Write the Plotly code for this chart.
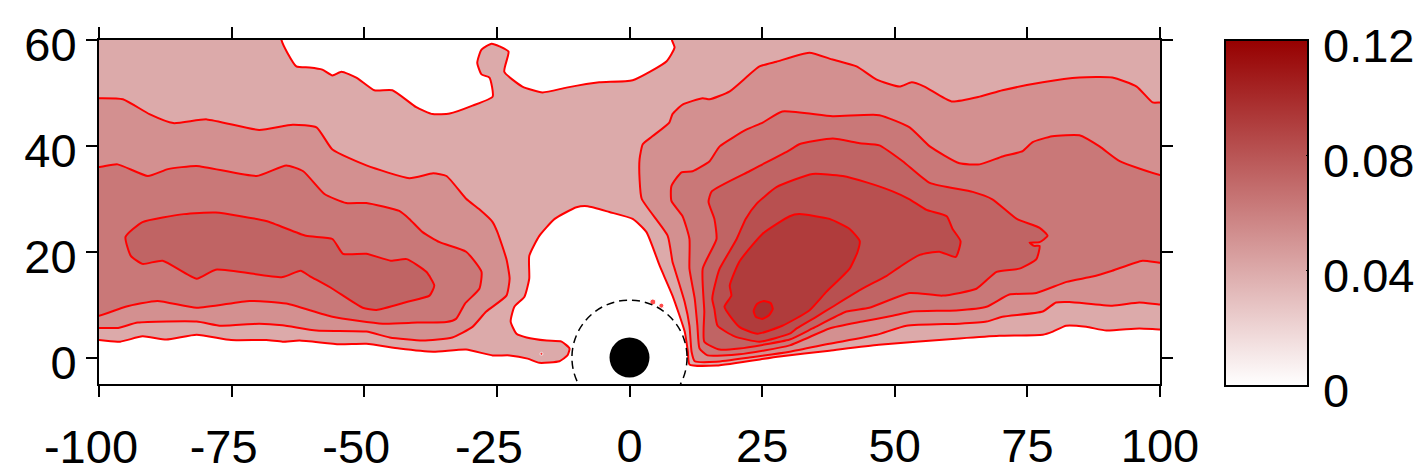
import plotly.graph_objects as go

selected_font = 'Liberation Sans'
line_color = 'red'

# colours of the filled bands, lowest level first
band_colors = ['#dcaaaa', '#d39090', '#c97878', '#c06464', '#b85050', '#b03c3c', '#a83030']

neg_x_ticks = [-100, -75, -50, -25]
neg_x_labels = ['-100', '-75', '-50', '-25']
x_ticks = [-100, -75, -50, -25, 0, 25, 50, 75, 100]
x_labels = ['', '', '', '', '0', '25', '50', '75', '100']
y_ticks = [0, 20, 40, 60]
y_labels = ['0', '20', '40', '60']
bar_ticks = [0, 0.04, 0.08, 0.12]
bar_labels = ['0', '0.04', '0.08', '0.12']

disc_radius = 3.77
dashed_radius = 10.85

# contours, in axis units
# where a band runs off the frame the outline goes just past it, so the frame clips the red line
level1_x = [-103, -100, -96, -91.8, -87.3, -81.6, -75.1, -68.5, -65.4, -62.2, -54.7, -49.6, -43.4, -37, -30.8, -25.8, -22.6,
            -19.2, -17, -13.2, -11.7, -11.3, -12.8, -15.6, -19.4, -21.3, -22.4, -21.7, -19.8, -18.9, -18.9, -17, -14.1,
            -10, -7.9, -3.8, 0.6, 3.2, 5.7, 8.1, 10.4, 11, 11.3, 16.4, 28.3, 37.7, 47, 62.2, 69.7, 77.9, 79.8, 82.3, 86.1,
            89.9, 96.1, 100, 103, 103, 8, 8, 8.5, 7, 0.6, -5.7, -11.9, -16.4, -20.2, -23.6, -22.8, -24.5, -26, -27.9, -28.7,
            -27.9, -26.4, -25.8, -29.6, -33.9, -37.1, -40.2, -44.7, -48.1, -51.5, -54.3, -56, -57.9, -60.3, -62.8, -64.5,
            -65.6, -65.8, -103, -103]
level1_y = [3.3, 3.3, 3, 4, 3.4, 4.3, 3.3, 3.3, 3, 3.2, 2.5, 2.6, 1.7, 1.1, 1.5, 0.4, 0.4,
            -0.2, -1, -0.7, 0.4, 1.7, 3, 3.2, 3.8, 4.5, 6.8, 9.6, 11.5, 14.9, 19.2, 23, 26.2,
            28.4, 28.6, 27.5, 26.2, 23.7, 17.3, 11.7, 4.9, 1.1, -1.3, -1.5, 0.2, 1.3, 2.4, 3.6, 4.1, 4.3, 4.9, 6, 5.8,
            5.1, 5.5, 5.3, 5.3, 63, 63, 60, 58.6, 56, 52.4, 52, 51, 50.1, 51.2, 54, 57.8, 58.8, 59.3, 58.2, 55.7,
            53.5, 52.9, 49.3, 47.6, 46.1, 46, 47.3, 50.5, 50.5, 52.9, 54, 53.3, 54.4, 54.8, 55, 57.6,
            60, 63, 63, 3.3]

level2_left_x = [-103, -100, -96.4, -92.7, -81.6, -77, -69.8, -65.4, -59, -49.6, -45.2, -39, -33.4, -29.6, -27, -23.2, -22.6,
                 -23.2, -24.9, -25.8, -28.3, -30.8, -34.5, -37, -41.5, -49.6, -56, -59, -63.5, -69.8, -79.7, -86, -90.5,
                 -95.5, -100, -103, -103]
level2_left_y = [5.6, 5.6, 5.6, 6.6, 6.8, 6, 6.4, 6.1, 5.1, 4.9, 3.8, 3.2, 3.8, 5.8, 8.7, 11.7, 14.9,
                 18.6, 23.7, 25.6, 28, 30, 34.3, 34.8, 33.9, 36.3, 39.3, 43.5, 44, 43, 45, 44.3, 46,
                 48.8, 49, 49, 5.6]
level2_right_x = [103, 100, 98.6, 95.6, 91, 84.8, 77.9, 70.3, 66, 60.7, 55.6, 53.2, 50.9, 46.6, 42.8, 38.3, 33.9, 27.7, 24.5,
                  18.9, 15.1, 13.8, 10, 8.1, 7.5, 4.3, 2.5, 1.9, 1.9, 2.3, 7.2, 8.1, 8.5, 10.4, 11.3, 11.7, 12.3, 16.4,
                  22.6, 30.2, 37.7, 46.6, 52.2, 62.2, 67.3, 70.3, 77.9, 80.4, 82.9, 91, 96.1, 100, 103, 103]
level2_right_y = [48.2, 48.2, 48.2, 51.2, 52.9, 52.9, 52, 50.5, 49.3, 48.4, 51.2, 52, 51.2, 52.5, 55, 56.3, 57.6, 55.9, 55,
                  50.3, 48.8, 49, 47.8, 46, 44.4, 41.8, 40.3, 37.5, 33.7, 30, 23, 18.1, 16.8, 10.5, 6, 1.1, -0.7, -0.8,
                  0, 1.1, 2.6, 4.3, 6, 6.4, 6.8, 7.7, 8.7, 10.4, 10.5, 9.8, 10.4, 10, 10, 48.2]

level3_left_x = [-103, -100, -96.5, -90.8, -87, -81.6, -70.3, -64.7, -61.5, -57.5, -53.4, -49.6, -43.4, -41.5, -39, -35.8, -30.8,
                 -27.9, -28.3, -31, -32.7, -34.5, -40, -46.5, -56, -64.7, -71.6, -81.6, -89, -95, -100, -103, -103]
level3_left_y = [36, 36, 36.5, 34.3, 35.6, 36.2, 34.3, 36.3, 35.2, 30.9, 29.2, 29.2, 27.7, 26.2, 23.7, 21.8, 20,
                 16.2, 13, 10.2, 7.3, 6.7, 6.6, 6.4, 7.7, 10.2, 10.7, 9.4, 10.7, 9.6, 7.9, 7.9, 36]
level3_right_x = [103, 100, 92.4, 88.6, 84.8, 79.7, 76, 74.1, 70.3, 66, 62.2, 56.6, 52.8, 47.1, 38.3, 28.8, 25.1, 22.1, 17, 15.1,
                  11.9, 9.8, 7.9, 7.9, 10, 11.3, 11.3, 12.3, 12.8, 13.2, 14.7, 20.7, 30.2, 37.7, 43.9, 49.6, 53.3, 61.6,
                  67.3, 71.6, 76.7, 82.4, 87.3, 91, 96.7, 100, 103, 103]
level3_right_y = [34.5, 34.5, 37.1, 39.9, 42, 41.8, 40.7, 39, 38, 36.5, 36.7, 39.9, 43.5, 45.8, 45.6, 46.5, 44.4, 43.1, 39.9, 37.1,
                  35.2, 35, 32.4, 29.6, 26.7, 22.4, 16.8, 11.1, 6, 1.7, 0.4, 0.6, 2.3, 5.5, 6.8, 7.9, 8.7, 8.9,
                  9.6, 11.9, 12.2, 14.3, 15.3, 16.4, 18.3, 17.9, 17.9, 34.5]

level4_left_x = [-95, -91.8, -84, -78, -68.5, -61, -56, -54, -49.6, -45, -42, -38.3, -36.8, -37.7, -42, -47.7, -50.3, -56,
                 -60.3, -62, -65.4, -78, -81.6, -88, -91.8, -94, -95]
level4_left_y = [22.8, 25.6, 27.1, 27.4, 25.8, 23, 22.4, 19.6, 19.6, 18.3, 18.6, 16.2, 13.6, 11.7, 10.5, 9, 9.4, 13,
                 15.4, 16.4, 15.2, 16.6, 14.9, 18.3, 17.7, 19.2, 22.8]
level4_right_x = [78.8, 77.3, 73, 68.4, 64.7, 56.6, 51.5, 47.1, 43.4, 38.3, 32, 30.2, 24.5, 22.6, 15.5, 14.9, 16, 16.4, 13.8,
                  14.1, 14.1, 17, 20.7, 30.2, 34.5, 40.9, 45.2, 52.8, 59, 65.4, 69.2, 73.5, 76.7, 77.3, 76.3, 75.4, 77.3, 78.8]
level4_right_y = [23, 24.5, 26.2, 29.9, 31.3, 33, 37.1, 40.1, 40.5, 41.4, 40.3, 39.2, 36.2, 35.2, 31.4, 29.4, 26.2, 22.4, 16.8,
                  8.7, 3, 1.5, 1.7, 3.4, 5.5, 8.7, 9.4, 12.2, 11.7, 13, 16.2, 16.8, 18.6, 21.1, 21.1, 21.7, 21.8, 23]

level5_x = [62.4, 60.9, 59.8, 56, 52.8, 49.6, 44.7, 40.2, 34.5, 27.7, 23.9, 21.9, 20.2, 17, 16.4, 15.6, 16, 16.6, 19.8, 24.5,
            30.2, 31.5, 35.2, 38.3, 43.9, 48.4, 50.9, 54.7, 58.4, 61.5, 62.4]
level5_y = [22, 24.3, 26.7, 27.9, 29.9, 31.4, 33.1, 34.3, 34.7, 32.2, 29, 26.2, 22.4, 16.8, 14.9, 11.1, 9.2, 6, 4, 3,
            4.5, 5.5, 7.7, 9.6, 13, 15.4, 17.1, 19.4, 20, 19, 22]

level6_x = [43.4, 43, 41.5, 37.1, 33.9, 28.8, 24.1, 20.7, 17.9, 19.2, 18.9, 20.7, 25.1, 30.2, 32, 37.7, 41.5, 43.4]
level6_y = [22, 20, 16.8, 12.4, 8.9, 6, 4.5, 5.8, 9.6, 11.7, 13.6, 18.1, 23.4, 26.7, 27.1, 26.2, 24.3, 22]

level7_x = [25.3, 26.6, 27, 26.3, 25, 23.8, 23.4, 24, 25.3]
level7_y = [10.7, 10.3, 9.2, 8, 7.3, 7.7, 8.8, 10.1, 10.7]

# tiny islands just above the lowest level
island_x = [-16.6, 4.4, 6]
island_y = [0.7, 10.5, 9.8]

contours = [
    (level1_x, level1_y, 0),
    (level2_left_x, level2_left_y, 1),
    (level2_right_x, level2_right_y, 1),
    (level3_left_x, level3_left_y, 2),
    (level3_right_x, level3_right_y, 2),
    (level4_left_x, level4_left_y, 3),
    (level4_right_x, level4_right_y, 3),
    (level5_x, level5_y, 4),
    (level6_x, level6_y, 5),
    (level7_x, level7_y, 6),
]

fig = go.Figure()
for cx, cy, band in contours:
    fig.add_trace(go.Scatter(x=cx, y=cy, mode='lines', fill='toself',
                             fillcolor=band_colors[band],
                             line=dict(color=line_color, width=2, shape='spline', smoothing=0.5),
                             hoverinfo='skip', showlegend=False))

fig.add_trace(go.Scatter(x=island_x, y=island_y, mode='markers',
                         marker=dict(color=line_color, size=[3, 6, 5]),
                         hoverinfo='skip', showlegend=False))

# empty trace so the axis with the negative labels gets drawn
fig.add_trace(go.Scatter(x=[None], y=[None], xaxis='x2', mode='markers', showlegend=False, hoverinfo='skip'))

# only here to get the colour bar
fig.add_trace(go.Scatter(x=[None], y=[None], mode='markers', showlegend=False,
                         marker=dict(color=[0], cmin=0, cmax=0.12, showscale=True,
                                     colorscale=[[0, '#ffffff'], [1, '#960000']],
                                     colorbar=dict(x=(1225 - 99) / 1061, xanchor='left', xpad=0,
                                                   y=1, yanchor='top', ypad=0,
                                                   thickness=83, thicknessmode='pixels',
                                                   len=346, lenmode='pixels',
                                                   outlinecolor='black', outlinewidth=2,
                                                   tickmode='array', tickvals=bar_ticks, showticklabels=False,
                                                   ticks='inside', ticklen=3, tickcolor='black', tickwidth=1))))

# colour bar labels sit a little below their ticks, the bar has ticks on its left edge too
for val, label in zip(bar_ticks, bar_labels):
    py = 386 - val / 0.12 * 346
    bar_y = (384.5 - py) / 344.5
    fig.add_annotation(x=(1321 - 99) / 1061, y=bar_y, xref='paper', yref='paper',
                       text=label, showarrow=False, xanchor='left', yanchor='middle', yshift=-5.5,
                       font=dict(size=47, color='black', family=selected_font))
    if 0 < val < 0.12:
        fig.add_shape(type='line', xref='paper', yref='paper', x0=(1225 - 99) / 1061, x1=(1229 - 99) / 1061,
                      y0=bar_y, y1=bar_y, line=dict(color='black', width=1))

# black hole and the dashed circle round it
fig.add_shape(type='circle', xref='x', yref='y', x0=-disc_radius, x1=disc_radius, y0=-disc_radius, y1=disc_radius,
              fillcolor='black', line_color='black', line_width=0)
fig.add_shape(type='circle', xref='x', yref='y', x0=-dashed_radius, x1=dashed_radius, y0=-dashed_radius, y1=dashed_radius,
              line=dict(color='black', width=1.5, dash='8px,5px'))

axis_style = dict(showgrid=False, zeroline=False, showline=True, linecolor='black', linewidth=2,
                  mirror='ticks', ticks='outside', ticklen=11, tickwidth=2, tickcolor='black',
                  tickmode='array', tickfont=dict(size=47, color='black', family=selected_font))

fig.update_layout(width=1420, height=473,
                  margin=dict(l=99, r=260, t=40, b=88.5, autoexpand=False),
                  font_family=selected_font,
                  paper_bgcolor='white', plot_bgcolor='white',
                  xaxis=dict(range=[-100, 100], tickvals=x_ticks, ticktext=x_labels, ticklabelstandoff=9, **axis_style),
                  # negative labels are centred on their digits, so they get their own axis
                  xaxis2=dict(range=[-100, 100], overlaying='x', side='bottom', anchor='y', showgrid=False,
                              zeroline=False, showline=False, ticks='', tickmode='array',
                              tickvals=neg_x_ticks, ticktext=neg_x_labels, ticklabelstandoff=31, ticklabelshift=-8,
                              tickfont=dict(size=47, color='black', family=selected_font)),
                  yaxis=dict(range=[-5, 60], tickvals=y_ticks, ticktext=y_labels, ticklabelshift=5, **axis_style))

fig.write_html("out.html", config={'displayModeBar': False}, post_script="document.body.style.margin='0';")
